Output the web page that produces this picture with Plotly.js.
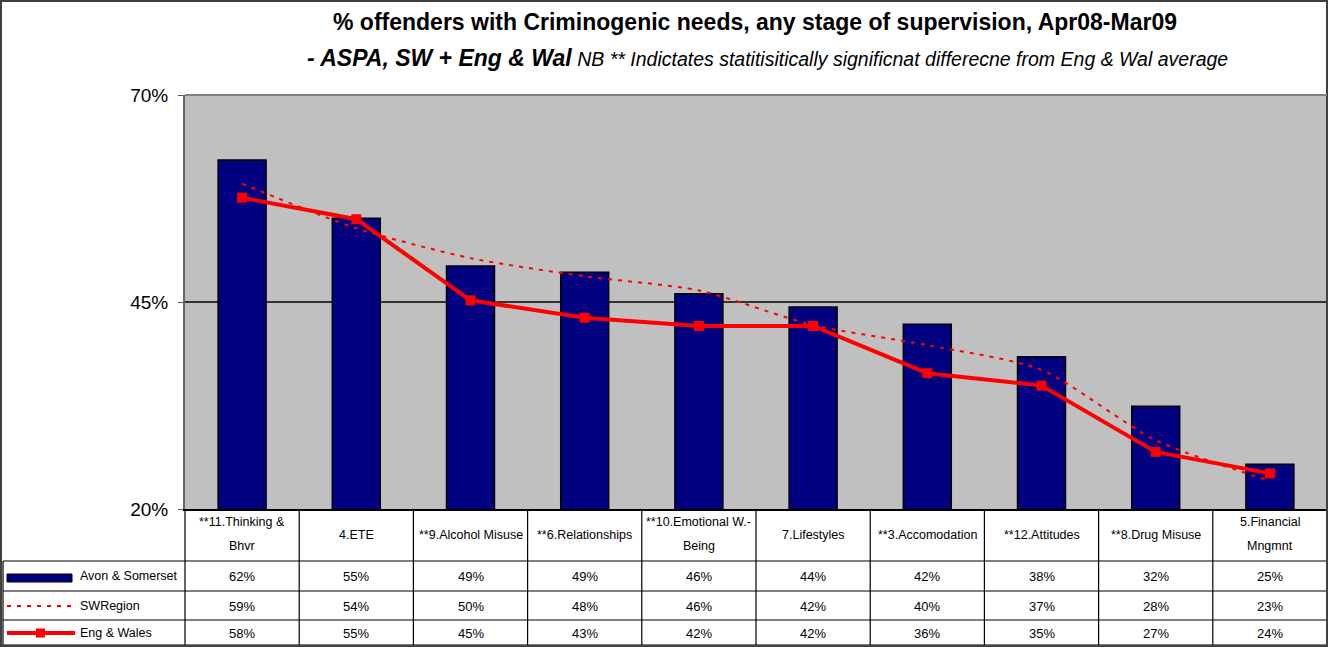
<!DOCTYPE html>
<html>
<head>
<meta charset="utf-8">
<script src="https://cdn.plot.ly/plotly-3.0.1.min.js"></script>
<style>html,body{margin:0;padding:0;background:#fff;}#chart{width:1328px;height:647px;}</style>
</head>
<body>
<div id="chart"></div>
<script>
// ---- data ----
var categories = ['**11.Thinking & Bhvr', '4.ETE', '**9.Alcohol Misuse', '**6.Relationships',
  '**10.Emotional W.-Being', '7.Lifestyles', '**3.Accomodation', '**12.Attitudes',
  '**8.Drug Misuse', '5.Financial Mngmnt'];
var categoryLines = [['**11.Thinking &', 'Bhvr'], ['4.ETE'], ['**9.Alcohol Misuse'], ['**6.Relationships'],
  ['**10.Emotional W.-', 'Being'], ['7.Lifestyles'], ['**3.Accomodation'], ['**12.Attitudes'],
  ['**8.Drug Misuse'], ['5.Financial', 'Mngmnt']];
var avonSomerset = [62.15, 55.1, 49.35, 48.6, 46.0, 44.4, 42.3, 38.4, 32.4, 25.4];
var swRegion     = [59.3, 53.9, 50.3, 48.1, 46.4, 42.2, 39.8, 36.8, 28.3, 23.4];
var engWales     = [57.6, 55.0, 45.2, 43.1, 42.1, 42.1, 36.4, 34.9, 26.9, 24.3];
var seriesNames  = ['Avon & Somerset', 'SWRegion', 'Eng & Wales'];
var yTicks = [20, 45, 70];

// ---- layout helpers (pixel -> paper) ----
var L = 185, R = 1327, T = 95, B = 509;
function px(x) { return (x - L) / (R - L); }
function py(y) { return (B - y) / (B - T); }

var FONT = 'Liberation Sans, Arial, sans-serif';

var traces = [
  {type: 'bar', name: seriesNames[0], x: categories, y: avonSomerset,
   marker: {color: '#000080', line: {color: '#000000', width: 1.5}}, showlegend: false, hoverinfo: 'x+y'},
  {type: 'scatter', mode: 'lines', name: seriesNames[1], x: categories, y: swRegion,
   line: {color: '#ff0000', width: 2, dash: '4px,6px', shape: 'spline', smoothing: 0.7}, showlegend: false},
  {type: 'scatter', mode: 'lines+markers', name: seriesNames[2], x: categories, y: engWales,
   line: {color: '#ff0000', width: 4}, marker: {symbol: 'square', size: 10, color: '#ff0000'}, showlegend: false}
];

var shapes = [];
var annotations = [];
var lineCol = '#000000';
function hline(y, x0, x1, w, c) {
  shapes.push({type: 'line', xref: 'paper', yref: 'paper', x0: px(x0), x1: px(x1), y0: py(y), y1: py(y),
    line: {color: c || lineCol, width: w || 1}});
}
function vline(xp, y0, y1, w, c) {
  shapes.push({type: 'line', xref: 'paper', yref: 'paper', x0: xp, x1: xp, y0: py(y0), y1: py(y1),
    line: {color: c || lineCol, width: w || 1}});
}

// table grid
var rowLines = [561, 591, 620, 645];
rowLines.forEach(function (y) { hline(y, 3, R, 1.2); });
for (var k = 0; k <= categories.length; k++) {
  vline(k / categories.length, B, 645, 1.2);
}
vline(px(3), 561, 645, 1.2);

// outer chart border
shapes.push({type: 'rect', xref: 'paper', yref: 'paper', x0: px(1), x1: px(1327), y0: py(646), y1: py(1),
  line: {color: '#404040', width: 2}, fillcolor: 'rgba(0,0,0,0)'});

// category labels in table header
categoryLines.forEach(function (lines, i) {
  var centers = lines.length === 1 ? [535] : [522, 546];
  lines.forEach(function (t, j) {
    annotations.push({xref: 'x', yref: 'paper', x: categories[i], y: py(centers[j]), text: t,
      showarrow: false, xanchor: 'center', yanchor: 'middle', font: {family: FONT, size: 12.5, color: '#000'}});
  });
});

// values rows
var rowSeries = [avonSomerset, swRegion, engWales];
var rowCenters = [576, 606, 633];
rowSeries.forEach(function (vals, r) {
  vals.forEach(function (v, i) {
    annotations.push({xref: 'x', yref: 'paper', x: categories[i], y: py(rowCenters[r]),
      text: Math.round(v) + '%', showarrow: false, xanchor: 'center', yanchor: 'middle',
      font: {family: FONT, size: 13, color: '#000'}});
  });
  annotations.push({xref: 'paper', yref: 'paper', x: px(78), y: py(rowCenters[r]), text: seriesNames[r],
    showarrow: false, xanchor: 'left', yanchor: 'middle', font: {family: FONT, size: 12.5, color: '#000'}});
});

// legend keys
shapes.push({type: 'rect', xref: 'paper', yref: 'paper', x0: px(7), x1: px(72), y0: py(582), y1: py(574),
  fillcolor: '#000080', line: {color: '#000', width: 1}});
shapes.push({type: 'line', xref: 'paper', yref: 'paper', x0: px(7), x1: px(74), y0: py(606), y1: py(606),
  line: {color: '#ff0000', width: 2, dash: '4px,6px'}});
shapes.push({type: 'line', xref: 'paper', yref: 'paper', x0: px(7), x1: px(75), y0: py(633), y1: py(633),
  line: {color: '#ff0000', width: 4}});
shapes.push({type: 'rect', xref: 'paper', yref: 'paper', x0: px(36), x1: px(45), y0: py(637.5), y1: py(628.5),
  fillcolor: '#ff0000', line: {width: 0}});

// subtitle line
annotations.push({xref: 'paper', yref: 'paper', x: px(767), y: py(58), xanchor: 'center', yanchor: 'middle',
  showarrow: false,
  text: '<b><i>- ASPA, SW + Eng &amp; Wal</i></b><i><span style="font-size:19.5px"> NB ** Indictates statitisitically significnat differecne from Eng &amp; Wal average</span></i>',
  font: {family: FONT, size: 23, color: '#000'}});

var layout = {
  width: 1328, height: 647,
  margin: {l: L, r: 1328 - R, t: T, b: 647 - B, pad: 0},
  paper_bgcolor: '#ffffff',
  plot_bgcolor: '#c0c0c0',
  title: {text: '<b>% offenders with Criminogenic needs, any stage of supervision, Apr08-Mar09</b>',
    x: 755 / 1328, xanchor: 'center', xref: 'container', y: 1 - 22 / 647, yanchor: 'middle', yref: 'container',
    font: {family: FONT, size: 23, color: '#000'}},
  bargap: 0.58,
  showlegend: false,
  xaxis: {type: 'category', range: [-0.5, categories.length - 0.5], showticklabels: false, ticks: '',
    showgrid: false, zeroline: false, showline: true, linecolor: '#000', linewidth: 1.5},
  yaxis: {range: [20, 70], tickvals: yTicks, ticktext: yTicks.map(function (v) { return v + '%'; }),
    ticks: 'outside', ticklen: 5, tickcolor: '#555', tickwidth: 1,
    showgrid: true, gridcolor: '#333', gridwidth: 1.5, zeroline: false,
    showline: true, linecolor: '#666', linewidth: 2, ticklabelstandoff: 6,
    tickfont: {family: FONT, size: 19, color: '#000'}},
  shapes: shapes,
  annotations: annotations
};

// top border of plot area
shapes.push({type: 'line', xref: 'paper', yref: 'paper', x0: 0, x1: 1, y0: 1, y1: 1, line: {color: '#808080', width: 2}});

Plotly.newPlot('chart', traces, layout, {displayModeBar: false, staticPlot: true});
</script>
</body>
</html>
